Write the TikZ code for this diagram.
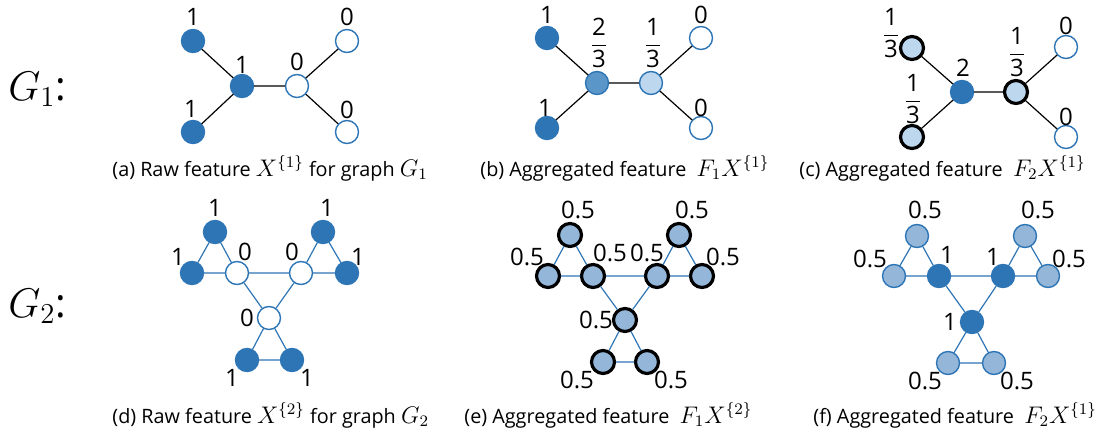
\documentclass[tikz,border=0pt]{standalone}
\usepackage{amsmath}
\usepackage{fontspec}
\setmainfont{Open Sans}
\definecolor{nodeblue}{HTML}{2E75B6}
\definecolor{midblue}{HTML}{5B96C8}
\definecolor{paleblue}{HTML}{BDD7EE}
\definecolor{softblue}{HTML}{93B6D9}
\newcommand{\third}[1]{$\dfrac{\mbox{#1}}{\mbox{3}}$}
\newcommand{\capmath}[1]{{\fontsize{11.6}{13}\selectfont$#1$}}
\begin{document}
\begin{tikzpicture}[x=0.5pt,y=-0.5pt,line cap=round,line join=round,
  vx/.style={circle,inner sep=0pt,minimum size=11.5pt,draw=nodeblue,line width=0.7pt},
  full/.style={vx,fill=nodeblue},
  empty/.style={vx,fill=white},
  half/.style={vx,fill=midblue},
  pale/.style={vx,fill=paleblue},
  soft/.style={vx,fill=softblue},
  bold/.style={draw=black,line width=1.6pt},
  val/.style={font=\fontsize{12}{14}\selectfont,inner sep=0pt},
  captext/.style={font=\fontsize{9.9}{12}\selectfont,inner sep=0pt,anchor=base west},
  rowname/.style={font=\fontsize{20}{24}\selectfont,inner sep=0pt,anchor=base west},
  blackedge/.style={line width=0.6pt,black},
  blueedge/.style={line width=0.6pt,nodeblue}]
  \useasboundingbox (0,0) rectangle (1113,428);
  % row labels
  \node[rowname] (g1) at (8,100) {$G_1$:};
  \node[rowname] (g2) at (8,317) {$G_2$:};
  % (a)
  \node[full] (a1) at (193,41) {};
  \node[full] (a2) at (193,132) {};
  \node[full] (a3) at (242,86) {};
  \node[empty] (a4) at (297,86) {};
  \node[empty] (a5) at (347,41) {};
  \node[empty] (a6) at (347,132) {};
  \draw[blackedge] (a1)--(a3) (a2)--(a3) (a3)--(a4) (a4)--(a5) (a4)--(a6);
  \node[val] (la1) at (193,17) {1};
  \node[val] (la2) at (191,109) {1};
  \node[val] (la3) at (242,65) {1};
  \node[val] (la4) at (297,62) {0};
  \node[val] (la5) at (347,17) {0};
  \node[val] (la6) at (347,110) {0};
  \node[captext] (capa) at (112,176) {(a) Raw feature \capmath{X^{\{1\}}} for graph \capmath{G_1}};
  % (b)
  \node[full] (b1) at (547,38) {};
  \node[full] (b2) at (547,128) {};
  \node[half] (b3) at (597,83) {};
  \node[pale] (b4) at (651,83) {};
  \node[empty] (b5) at (701,38) {};
  \node[empty] (b6) at (701,128) {};
  \draw[blackedge] (b1)--(b3) (b2)--(b3) (b3)--(b4) (b4)--(b5) (b4)--(b6);
  \node[val] (lb1) at (547,15) {1};
  \node[val] (lb2) at (545,108) {1};
  \node[val] (lb3) at (599,43) {\third{2}};
  \node[val] (lb4) at (653,43) {\third{1}};
  \node[val] (lb5) at (701,15) {0};
  \node[val] (lb6) at (701,108) {0};
  \node[captext] (capb) at (480,176) {(b) Aggregated feature\ \ \capmath{F_1X^{\{1\}}}};
  % (c)
  \node[pale,bold] (c1) at (912,48) {};
  \node[pale,bold] (c2) at (912,137) {};
  \node[full] (c3) at (962,92) {};
  \node[pale,bold] (c4) at (1016,92) {};
  \node[empty] (c5) at (1066,47) {};
  \node[empty] (c6) at (1066,137) {};
  \draw[blackedge] (c1)--(c3) (c2)--(c3) (c3)--(c4) (c4)--(c5) (c4)--(c6);
  \node[val] (lc1) at (891,33) {\third{1}};
  \node[val] (lc2) at (913,99) {\third{1}};
  \node[val] (lc3) at (963,68) {2};
  \node[val] (lc4) at (1017,52) {\third{1}};
  \node[val] (lc5) at (1066,26) {0};
  \node[val] (lc6) at (1066,117) {0};
  \node[captext] (capc) at (799,176) {(c) Aggregated feature\ \ \capmath{F_2X^{\{1\}}}};
  % (d)
  \node[full] (d1) at (215,232) {};
  \node[full] (d2) at (192,273) {};
  \node[empty] (d3) at (237,273) {};
  \node[empty] (d4) at (301,273) {};
  \node[full] (d5) at (323,232) {};
  \node[full] (d6) at (347,273) {};
  \node[empty] (d7) at (269,318) {};
  \node[full] (d8) at (247,360) {};
  \node[full] (d9) at (292,360) {};
  \draw[blueedge] (d1)--(d2) (d1)--(d3) (d2)--(d3) (d3)--(d4) (d4)--(d5) (d5)--(d6)
    (d4)--(d6) (d3)--(d7) (d4)--(d7) (d7)--(d8) (d7)--(d9) (d8)--(d9);
  \node[val] (ld1) at (215,208) {1};
  \node[val] (ld2) at (178,257) {1};
  \node[val] (ld3) at (245,252) {0};
  \node[val] (ld4) at (292,252) {0};
  \node[val] (ld5) at (327,208) {1};
  \node[val] (ld6) at (358,257) {1};
  \node[val] (ld7) at (247,318) {0};
  \node[val] (ld8) at (232,378) {1};
  \node[val] (ld9) at (307,378) {1};
  \node[captext] (capd) at (112,423) {(d) Raw feature \capmath{X^{\{2\}}} for graph \capmath{G_2}};
  % (e)
  \foreach \n/\x/\y in {1/570/235,2/548/276,3/593/276,4/657/276,5/679/235,
    6/702/276,7/625/320,8/603/362,9/647/362}
    \node[soft,bold] (e\n) at (\x,\y) {};
  \draw[blueedge] (e1)--(e2) (e1)--(e3) (e2)--(e3) (e3)--(e4) (e4)--(e5) (e5)--(e6)
    (e4)--(e6) (e3)--(e7) (e4)--(e7) (e7)--(e8) (e7)--(e9) (e8)--(e9);
  \foreach \n/\x/\y in {1/578/210,2/527/257,3/610/253,4/647/253,5/692/210,
    6/723/257,7/596/320,8/577/380,9/671/380}
    \node[val] (le\n) at (\x,\y) {0.5};
  \node[captext] (cape) at (464,423) {(e) Aggregated feature\ \ \capmath{F_1X^{\{2\}}}};
  % (f)
  \node[soft] (f1) at (917,236) {};
  \node[soft] (f2) at (894,276) {};
  \node[full] (f3) at (939,276) {};
  \node[full] (f4) at (1003,276) {};
  \node[soft] (f5) at (1025,236) {};
  \node[soft] (f6) at (1048,276) {};
  \node[full] (f7) at (972,322) {};
  \node[soft] (f8) at (948,363) {};
  \node[soft] (f9) at (994,363) {};
  \draw[blueedge] (f1)--(f2) (f1)--(f3) (f2)--(f3) (f3)--(f4) (f4)--(f5) (f5)--(f6)
    (f4)--(f6) (f3)--(f7) (f4)--(f7) (f7)--(f8) (f7)--(f9) (f8)--(f9);
  \node[val] (lf1) at (925,210) {0.5};
  \node[val] (lf2) at (870,259) {0.5};
  \node[val] (lf3) at (947,255) {1};
  \node[val] (lf4) at (993,257) {1};
  \node[val] (lf5) at (1038,210) {0.5};
  \node[val] (lf6) at (1069,259) {0.5};
  \node[val] (lf7) at (950,322) {1};
  \node[val] (lf8) at (925,381) {0.5};
  \node[val] (lf9) at (1017,381) {0.5};
  \node[captext] (capf) at (813,423) {(f) Aggregated feature\ \ \capmath{F_2X^{\{1\}}}};
\end{tikzpicture}
\end{document}
